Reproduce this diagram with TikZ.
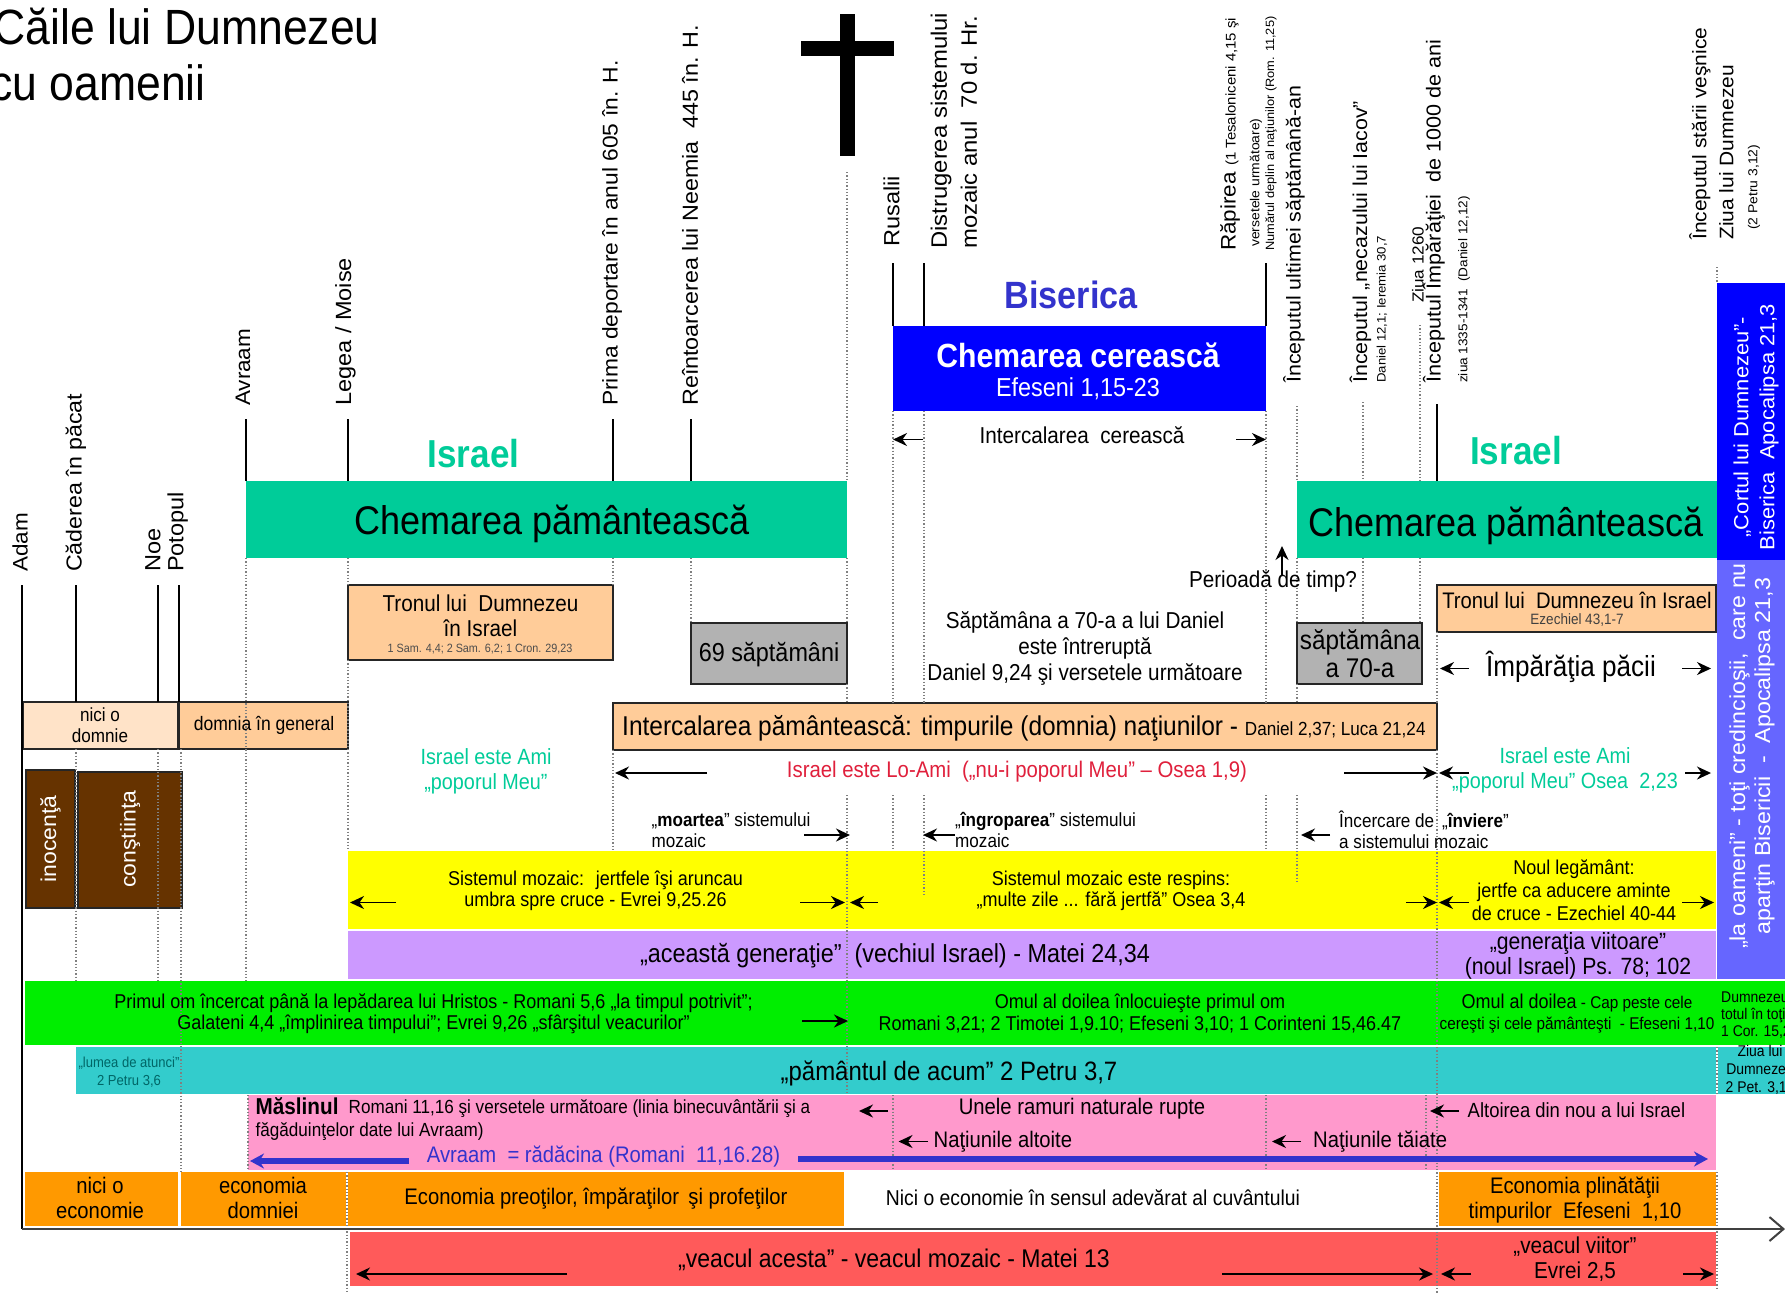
\documentclass[tikz,border=0pt]{standalone}
\usepackage{fontspec}
\setmainfont{Liberation Sans}
\newfontfamily\horizfont[FakeStretch=0.9]{Liberation Sans}
\newfontfamily\vertfont[FakeStretch=1.07]{Liberation Sans}
\usetikzlibrary{arrows.meta}
\definecolor{earthgreen}{HTML}{00CC99}
\definecolor{heavenblue}{HTML}{0000FF}
\definecolor{inkblue}{HTML}{3333CC}
\definecolor{softblue}{HTML}{6666FF}
\definecolor{peach}{HTML}{FFCC99}
\definecolor{palepeach}{HTML}{FFE3C8}
\definecolor{slategray}{HTML}{B2B2B2}
\definecolor{soilbrown}{HTML}{663300}
\definecolor{sunyellow}{HTML}{FFFF00}
\definecolor{lilac}{HTML}{CC99FF}
\definecolor{limegreen}{HTML}{00EE00}
\definecolor{seacyan}{HTML}{33CCCC}
\definecolor{rosepink}{HTML}{FF99CC}
\definecolor{amber}{HTML}{FF9900}
\definecolor{coralred}{HTML}{FF5A5A}
\definecolor{loamired}{HTML}{E0203C}
\definecolor{deepteal}{HTML}{006666}
\tikzset{
  htxt/.style 2 args={font=\horizfont\fontsize{#1}{#2}\selectfont, inner sep=0pt, align=center},
  ltxt/.style 2 args={htxt={#1}{#2}, align=left, anchor=west},
  vtxt/.style 2 args={font=\vertfont\fontsize{#1}{#2}\selectfont, inner sep=0pt, rotate=90, align=left, anchor=west},
  sline/.style={black, line width=1.6pt},
  dline/.style={gray, dotted, line width=1.3pt},
  arr/.style={-{Stealth[length=14pt,width=13pt]}, line width=1.9pt},
  bluearr/.style={-{Stealth[length=14pt,width=15pt]}, line width=5.5pt, inkblue},
  framed/.style={draw=black!85, line width=1.6pt}
}
\begin{document}
\begin{tikzpicture}[x=1pt, y=-1pt]
\useasboundingbox (0,0) rectangle (1785,1294);
\clip (0,0) rectangle (1785,1294);
\fill[white] (0,0) rectangle (1785,1294);

% bands
\fill[earthgreen] (246,481) rectangle (847,558);
\fill[earthgreen] (1297,481) rectangle (1717,558);
\fill[heavenblue] (893,326) rectangle (1266,411);
\fill[heavenblue] (1717,283) rectangle (1785,560);
\fill[softblue] (1717,560) rectangle (1785,979);
\fill[sunyellow] (348,851) rectangle (1716,929);
\fill[lilac] (348,931) rectangle (1716,979);
\fill[limegreen] (25,981) rectangle (1785,1045);
\fill[seacyan] (76,1047) rectangle (1716,1094);
\fill[seacyan] (1718,1047) rectangle (1785,1094);
\fill[rosepink] (248,1095) rectangle (1716,1170);
\fill[amber] (25,1172) rectangle (178,1226);
\fill[amber] (181,1172) rectangle (346,1226);
\fill[amber] (348,1172) rectangle (844,1226);
\fill[amber] (1439,1172) rectangle (1716,1226);
\fill[coralred] (350,1232) rectangle (1716,1286);

% boxes
\draw[framed, fill=peach] (348,585) rectangle (613,660);
\draw[framed, fill=peach] (1437,585) rectangle (1716,632);
\draw[framed, fill=slategray] (691,623) rectangle (847,684);
\draw[framed, fill=slategray] (1297,623) rectangle (1422,684);
\draw[framed, fill=palepeach] (23,702) rectangle (178,749);
\draw[framed, fill=peach] (179,702) rectangle (348,749);
\draw[framed, fill=peach] (613,703) rectangle (1437,750);
\draw[framed, fill=soilbrown] (26,770) rectangle (75,908);
\draw[framed, fill=soilbrown] (78,772) rectangle (182,908);

% vertical markers
\foreach\x/\a/\b in {22/585/1229, 76/585/702, 158/585/702, 179/585/702,
                     246/419/481, 348/419/481, 613/419/481, 691/419/481,
                     893/263/326, 924/263/326, 1266/263/326, 1437/404/481}
  {
  \draw[sline] (\x,\a) -- (\x,\b);
  }
\foreach\x/\a/\b in {76/749/981, 158/749/981, 181/749/1172, 246/558/981, 248/1095/1170,
                     348/558/585, 348/660/851, 347/1172/1294,
                     613/558/585, 613/750/851, 691/558/623,
                     847/172/481, 847/558/623, 847/684/703, 847/795/1094,
                     893/411/703, 893/795/851, 893/1095/1170,
                     924/411/703, 924/795/896,
                     1266/411/703, 1266/795/851, 1266/1095/1170,
                     1297/406/481, 1297/558/623, 1297/684/703, 1297/795/882,
                     1363/402/481, 1363/558/623,
                     1420/325/481, 1420/558/623, 1426/1095/1170,
                     1437/632/703, 1437/750/1294,
                     1717/267/283, 1717/1047/1094, 1717/1172/1290}
  {
  \draw[dline] (\x,\a) -- (\x,\b);
  }

% cross
\fill[black] (840,14) rectangle (855,156);
\fill[black] (801,41) rectangle (894,56);

% time axis
\coordinate (axisstart) at (22,1229);
\coordinate (axisend) at (1785,1229);
\draw[line width=2pt, black!75, -{Straight Barb[length=14pt,width=24pt]}] (axisstart) -- (axisend);

% title
\node[ltxt={49.5}{57}, anchor=east] (titleone) at (380,26) {Căile lui Dumnezeu};
\node[ltxt={49.5}{57}, anchor=east] (titletwo) at (206,83) {cu oamenii};

% rotated labels
\node[vtxt={21}{24}] (adam) at (20,572) {Adam};
\node[vtxt={21.7}{25}] (cadere) at (76,572) {Căderea în păcat};
\node[vtxt={22}{23}] (noe) at (166.5,572) {Noe\\Potopul};
\node[vtxt={21}{24}] (avraam) at (243,406) {Avraam};
\node[vtxt={22}{25}] (legea) at (345.5,406) {Legea / Moise};
\node[vtxt={21.3}{25}] (prima) at (612,406) {Prima deportare în anul 605 în. H.};
\node[vtxt={21.8}{25}] (neemia) at (690,406) {Reîntoarcerea lui Neemia \ 445 în. H.};
\node[vtxt={22}{25}] (rusalii) at (891.5,247) {Rusalii};
\node[vtxt={22.3}{30}] (distrugere) at (954,249) {Distrugerea sistemului\\mozaic anul \ 70 d. Hr.};
\node[vtxt={21}{25}] (rapire) at (1230,251) {Răpirea {\fontsize{14}{18}\selectfont (1 Tesaloniceni 4,15 şi}};
\node[vtxt={13}{16}] (versete) at (1256,247) {versetele următoare)};
\node[vtxt={12}{15}] (numar) at (1271,251) {Numărul deplin al naţiunilor (Rom. 11,25)};
\node[vtxt={20}{25}] (ultima) at (1294,383) {Începutul ultimei săptămână-an};
\node[vtxt={20}{25}] (necaz) at (1360.5,383) {Începutul „necazului lui Iacov”};
\node[vtxt={12.3}{16}] (ieremia) at (1382,383) {Daniel 12,1; Ieremia 30,7};
\node[vtxt={16}{19}] (ziua) at (1418,303) {Ziua 1260};
\node[vtxt={20.2}{25}] (imparatie) at (1434,383) {Începutul Împărăţiei \ de 1000 de ani};
\node[vtxt={12.7}{17}] (ziuamie) at (1464,383) {ziua 1335-1341 \ (Daniel 12,12)};
\node[vtxt={19.6}{27}] (stare) at (1711.5,240) {Începutul stării veşnice\\Ziua lui Dumnezeu};
\node[vtxt={13}{15}] (petru) at (1754,230) {(2 Petru 3,12)};
\node[vtxt={21.5}{25}, white, anchor=center, align=center] (inocenta) at (50.5,839) {inocenţă};
\node[vtxt={21.5}{25}, white, anchor=center, align=center] (constiinta) at (130,839) {conştiinţa};
\node[vtxt={20.5}{26}, white, anchor=center, align=center] (cortul) at (1756,427) {„Cortul lui Dumnezeu”-\\Biserica \ Apocalipsa 21,3};
\node[vtxt={21.7}{25}, white, anchor=center, align=center] (toti) at (1752,756) {„la oameni” - toţi credincioşii, \ care nu\\aparţin Bisericii \ - \ Apocalipsa 21,3};

% headings
\node[htxt={39}{45}, earthgreen, font=\horizfont\bfseries\fontsize{39}{45}\selectfont] (israelone) at (473.5,454) {Israel};
\node[htxt={39}{45}, earthgreen, font=\horizfont\bfseries\fontsize{39}{45}\selectfont] (israeltwo) at (1516,451) {Israel};
\node[htxt={38}{44}, inkblue, font=\horizfont\bfseries\fontsize{38}{44}\selectfont] (biserica) at (1071,295) {Biserica};
\node[htxt={40}{46}] (pamantone) at (552,524) {Chemarea pământească};
\node[htxt={40}{46}] (pamanttwo) at (1506,526) {Chemarea pământească};
\node[htxt={33.5}{38}, white, font=\horizfont\bfseries\fontsize{33.5}{38}\selectfont] (cereasca) at (1078,355) {Chemarea cerească};
\node[htxt={26}{30}, white] (efeseni) at (1078,389) {Efeseni 1,15-23};

% texts in the upper half
\node[htxt={23}{27}] (intercer) at (1082,435) {Intercalarea \ cerească};
\node[htxt={23}{27}] (perioada) at (1273,581) {Perioadă de timp?};
\node[htxt={23}{26}] (daniel) at (1085,648) {Săptămâna a 70-a a lui Daniel\\este întreruptă\\Daniel 9,24 şi versetele următoare};
\node[htxt={23}{25}] (tronone) at (480.5,616) {Tronul lui \ Dumnezeu\\în Israel};
\node[htxt={12}{14}, black!70] (samuel) at (480,649) {1 Sam. 4,4; 2 Sam. 6,2; 1 Cron. 29,23};
\node[htxt={26}{30}] (saizeci) at (769,654.5) {69 săptămâni};
\node[htxt={27}{28}] (saptezeci) at (1360,654) {săptămâna\\a 70-a};
\node[htxt={22.5}{27}] (tronutwo) at (1577,600) {Tronul lui \ Dumnezeu în Israel};
\node[htxt={15}{18}, black!75] (ezechiel) at (1577,620) {Ezechiel 43,1-7};
\node[htxt={29}{34}] (pace) at (1571,667) {Împărăţia păcii};
\node[htxt={19}{21}] (niciodom) at (100,725) {nici o\\domnie};
\node[htxt={19.5}{23}] (domnia) at (264,725) {domnia în general};
\node[ltxt={27.2}{32}] (interpam) at (622,728) {Intercalarea pământească: timpurile (domnia) naţiunilor - {\fontsize{19}{24}\selectfont Daniel 2,37; Luca 21,24}};
\node[htxt={22}{25}, earthgreen] (amione) at (486,771) {Israel este Ami\\„poporul Meu”};
\node[htxt={22.6}{28}, loamired] (loami) at (1017,772) {Israel este Lo-Ami \ („nu-i poporul Meu” – Osea 1,9)};
\node[htxt={22}{25}, earthgreen] (amitwo) at (1565,770) {Israel este Ami\\„poporul Meu” Osea \ 2,23};
\node[ltxt={19}{21.5}] (moarte) at (651.5,830) {„\textbf{moartea}” sistemului\\mozaic};
\node[ltxt={19}{21.5}] (ingropare) at (955,830) {„\textbf{îngroparea}” sistemului\\mozaic};
\node[ltxt={19}{21.5}] (inviere) at (1339,830) {Încercare de \,„\textbf{înviere}”\\a sistemului mozaic};

% texts on the bands
\node[htxt={20}{21.5}] (umbra) at (595.5,891) {Sistemul mozaic: \ jertfele îşi aruncau\\umbra spre cruce - Evrei 9,25.26};
\node[htxt={20}{21.5}] (respins) at (1111,891) {Sistemul mozaic este respins:\\„multe zile ... fără jertfă” Osea 3,4};
\node[htxt={20}{23}] (legamant) at (1574,890.5) {Noul legământ:\\jertfe ca aducere aminte\\de cruce - Ezechiel 40-44};
\node[htxt={26}{32}] (generatie) at (895,956) {„această generaţie” \ (vechiul Israel) - Matei 24,34};
\node[htxt={23.5}{25}] (viitoare) at (1578,956) {„generaţia viitoare”\\(noul Israel) Ps. 78; 102};
\node[htxt={20}{21.5}] (primul) at (433.5,1013.5) {Primul om încercat până la lepădarea lui Hristos - Romani 5,6 „la timpul potrivit”;\\Galateni 4,4 „împlinirea timpului”; Evrei 9,26 „sfârşitul veacurilor”};
\node[htxt={20}{21.5}] (doilea) at (1140,1013.5) {Omul al doilea înlocuieşte primul om\\Romani 3,21; 2 Timotei 1,9.10; Efeseni 3,10; 1 Corinteni 15,46.47};
\node[htxt={17}{21.5}] (capul) at (1577,1013.5) {{\fontsize{20}{21.5}\selectfont Omul al doilea} - Cap peste cele\\cereşti şi cele pământeşti \ - Efeseni 1,10};
\node[ltxt={15.5}{17}] (totul) at (1721,1015) {Dumnezeu\\totul în toţi\\1 Cor. 15,28};
\node[htxt={14.5}{18}, deepteal] (lumea) at (129,1072) {„lumea de atunci”\\2 Petru 3,6};
\node[htxt={26.6}{30}] (pamantul) at (949,1073) {„pământul de acum” 2 Petru 3,7};
\node[htxt={15.5}{18}] (ziualui) at (1760,1070) {Ziua lui\\Dumnezeu\\2 Pet. 3,12};
\node[ltxt={23}{27}, font=\horizfont\bfseries\fontsize{23}{27}\selectfont] (maslinul) at (255.5,1106) {Măslinul};
\node[ltxt={19}{23}] (romani) at (348.5,1108) {Romani 11,16 şi versetele următoare (linia binecuvântării şi a};
\node[ltxt={19}{23}] (fagaduinte) at (255.5,1131) {făgăduinţelor date lui Avraam)};
\node[htxt={22.5}{27}, inkblue] (radacina) at (603.5,1157) {Avraam \ = rădăcina (Romani \ 11,16.28)};
\node[htxt={22.5}{27}] (ramuri) at (1082,1109) {Unele ramuri naturale rupte};
\node[ltxt={22.5}{27}] (altoite) at (933.5,1142) {Naţiunile altoite};
\node[ltxt={22.5}{27}] (taiate) at (1313,1142) {Naţiunile tăiate};
\node[ltxt={20.5}{24}] (altoire) at (1467.5,1110) {Altoirea din nou a lui Israel};
\node[htxt={22.5}{25}] (niciecon) at (100,1198) {nici o\\economie};
\node[htxt={22.5}{25}] (domniei) at (263,1198) {economia\\domniei};
\node[htxt={22.5}{27}] (preoti) at (596,1199) {Economia preoţilor, împăraţilor \,şi profeţilor};
\node[htxt={21.5}{27}] (sensul) at (1093,1198) {Nici o economie în sensul adevărat al cuvântului};
\node[htxt={22.5}{25}] (plinatate) at (1575,1200) {Economia plinătăţii\\timpurilor \ Efeseni \ 1,10};
\node[htxt={25.6}{30}] (veacul) at (894,1260) {„veacul acesta” - veacul mozaic - Matei 13};
\node[htxt={23}{25.5}] (viitor) at (1575,1259) {„veacul viitor”\\Evrei 2,5};

% arrows
\foreach\xa/\ya/\xb in {923/439.5/893, 1236/439.5/1266, 707/773/615, 1344/773/1437, 1469/773/1439, 1685/773/1711,
                        1469/668.5/1440, 1682/668.5/1711, 804/835/850, 955/835/923, 1330/835/1301,
                        396/902.5/350, 800/902.5/845, 878/902.5/850, 1406/902.5/1437, 1469/902.5/1439, 1682/902.5/1714,
                        802/1021/848, 888/1111/859, 928/1141.5/898.5, 1301/1141.5/1272, 1459/1111/1430,
                        567/1274/356, 1222/1274/1433, 1471/1274/1441, 1683/1274/1714}
  {
  \draw[arr] (\xa,\ya) -- (\xb,\ya);
  }
\draw[arr] (1282,576) -- (1282,546);
\draw[bluearr] (409,1161) -- (250,1161);
\draw[bluearr] (798,1159) -- (1708,1159);

\end{tikzpicture}
\end{document}
